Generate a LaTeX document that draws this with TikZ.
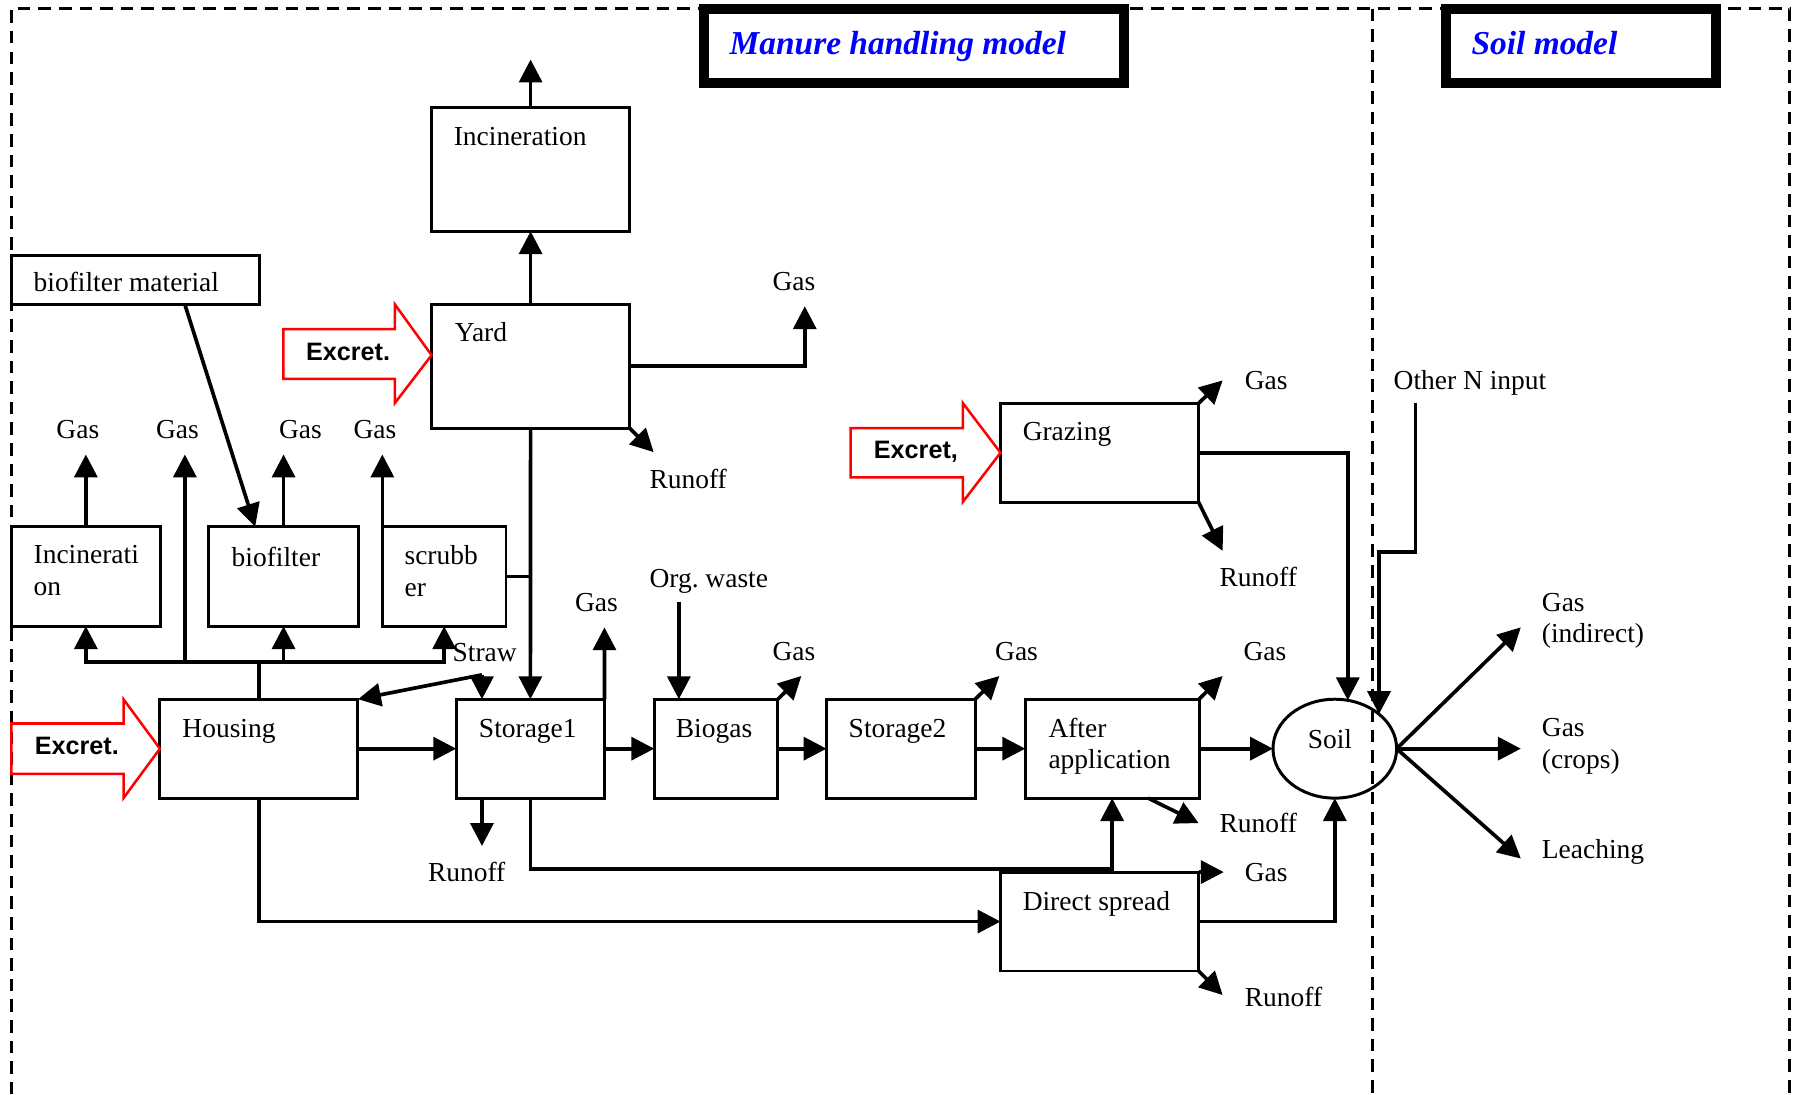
\documentclass[tikz,border=0pt]{standalone}
\usepackage{fontspec}
\setmainfont{Liberation Serif}
\newfontfamily\arialfont{Liberation Sans}
\usetikzlibrary{arrows.meta,shapes.geometric,calc}
\frenchspacing
\begin{document}
\begin{tikzpicture}[x=0.5pt,y=-0.5pt,
  bx/.style 2 args={draw,line width=1.3pt,minimum width=#1,minimum height=#2,inner sep=0pt,outer sep=0pt},
  conn/.style={line width=1.6pt},
  arr/.style={line width=1.6pt,-{Triangle[length=10pt,width=10pt]}},
  lbl/.style={inner sep=0pt,font=\fontsize{12}{14}\selectfont},
  excret/.style={draw=red,line width=1.1pt,line join=miter},
  extxt/.style={inner sep=0pt,font=\arialfont\bfseries\fontsize{11}{13}\selectfont},
  title/.style={draw,line width=4.4pt,inner sep=0pt,outer sep=0pt},
  ttxt/.style={inner sep=0pt,text=blue,font=\bfseries\itshape\fontsize{14.6}{17}\selectfont},
  border/.style={line width=1.4pt,dash pattern=on 5.5pt off 3.5pt}]
\useasboundingbox (0,0) rectangle (1568,956);

% dashed frame and divider
\draw[border] (10,956) -- (10,7.5) -- (1563.5,7.5) -- (1563.5,956);
\draw[border] (1199,7.5) -- (1199,956);

% titles
\node[title,fill=white,minimum width=183.3pt,minimum height=32.3pt] (title1) at (798.3,40) {};
\node[ttxt,anchor=base west] (title1t) at (637,48) {Manure handling model};
\node[title,fill=white,minimum width=118pt,minimum height=32.3pt] (title2) at (1381,40) {};
\node[ttxt,anchor=base west] (title2t) at (1285,48) {Soil model};

% boxes
\node[bx={86.5pt}{54pt}] (incA) at (463.5,148) {};
\node[bx={86.5pt}{54pt}] (yard) at (463.5,320) {};
\node[bx={108.3pt}{21.4pt}] (bfmat) at (118.3,245) {};
\node[bx={65pt}{43.5pt}] (incB) at (75,503.5) {};
\node[bx={65.2pt}{43.5pt}] (biof) at (247.7,503.5) {};
\node[bx={54pt}{43.5pt}] (scrub) at (388,503.5) {};
\node[bx={86.5pt}{43.2pt}] (hous) at (226.2,654) {};
\node[bx={64.8pt}{43.2pt}] (st1) at (463.3,654) {};
\node[bx={54pt}{43.2pt}] (biog) at (625.5,654) {};
\node[bx={64.9pt}{43.2pt}] (st2) at (786.9,654) {};
\node[bx={75.9pt}{43.2pt}] (aft) at (971.5,654) {};
\node[bx={86.5pt}{43.2pt}] (graz) at (960.5,395.5) {};
\node[bx={86.5pt}{43.2pt}] (dir) at (960.5,805) {};
\node[draw,ellipse,line width=1.3pt,minimum width=54pt,minimum height=43.2pt,inner sep=0pt,outer sep=0pt] (soil) at (1166,654) {};

% box texts
\node[lbl,anchor=base west] (tincA) at (396,127) {Incineration};
\node[lbl,anchor=base west] (tyard) at (397,298) {Yard};
\node[lbl,anchor=base west] (tbfmat) at (29,255) {biofilter material};
\node[lbl,anchor=base west] (tincB1) at (29,492) {Incinerati};
\node[lbl,anchor=base west] (tincB2) at (29,520) {on};
\node[lbl,anchor=base west] (tbiof) at (202,495) {biofilter};
\node[lbl,anchor=base west] (tscrub1) at (353,493.5) {scrubb};
\node[lbl,anchor=base west] (tscrub2) at (353,521.5) {er};
\node[lbl,anchor=base west] (thous) at (159,644) {Housing};
\node[lbl,anchor=base west] (tst1) at (418,644) {Storage1};
\node[lbl,anchor=base west] (tbiog) at (590,644) {Biogas};
\node[lbl,anchor=base west] (tst2) at (741,644) {Storage2};
\node[lbl,anchor=base west] (taft1) at (915.5,644) {After};
\node[lbl,anchor=base west] (taft2) at (915.5,671.5) {application};
\node[lbl,anchor=base west] (tgraz) at (893,385) {Grazing};
\node[lbl,anchor=base west] (tdir) at (893,795) {Direct spread};
\node[lbl,anchor=base west] (tsoil) at (1142,654) {Soil};

% outside labels
\node[lbl,anchor=base] (g1) at (68,383) {Gas};
\node[lbl,anchor=base] (g2) at (155,383) {Gas};
\node[lbl,anchor=base] (g3) at (262.5,383) {Gas};
\node[lbl,anchor=base] (g4) at (327.5,383) {Gas};
\node[lbl,anchor=base] (gyard) at (693.5,254) {Gas};
\node[lbl,anchor=base west] (ryard) at (567,427) {Runoff};
\node[lbl,anchor=base west] (straw) at (395,578) {Straw};
\node[lbl,anchor=base] (gst1) at (521,534) {Gas};
\node[lbl,anchor=base west] (orgw) at (567,513) {Org. waste};
\node[lbl,anchor=base] (gbiog) at (693.5,577) {Gas};
\node[lbl,anchor=base] (gst2) at (888,577) {Gas};
\node[lbl,anchor=base] (gaft) at (1105,577) {Gas};
\node[lbl,anchor=base west] (raft) at (1065,727.5) {Runoff};
\node[lbl,anchor=base west] (rst1) at (373.5,770) {Runoff};
\node[lbl,anchor=base west] (gdir) at (1087,770) {Gas};
\node[lbl,anchor=base west] (rdir) at (1087,879.5) {Runoff};
\node[lbl,anchor=base west] (ggraz) at (1087,340) {Gas};
\node[lbl,anchor=base west] (rgraz) at (1065,512) {Runoff};
\node[lbl,anchor=base west] (othN) at (1217,340) {Other N input};
\node[lbl,anchor=base west] (gind1) at (1346.5,534) {Gas};
\node[lbl,anchor=base west] (gind2) at (1346.5,561.5) {(indirect)};
\node[lbl,anchor=base west] (gcr1) at (1346.5,643) {Gas};
\node[lbl,anchor=base west] (gcr2) at (1346.5,671) {(crops)};
\node[lbl,anchor=base west] (leach) at (1346.5,749.5) {Leaching};

% Excret block arrows
\draw[excret] (10,632) -- (108,632) -- (108,611) -- (hous.west) -- (108,697) -- (108,676) -- (10,676) -- cycle;
\node[extxt,anchor=base west] (ex1) at (30,659) {Excret.};
\draw[excret] (247.5,287.5) -- (345,287.5) -- (345,266) -- ($(yard.north west)!0.41!(yard.south west)$) -- (345,352) -- (345,331) -- (247.5,331) -- cycle;
\node[extxt,anchor=base west] (ex2) at (267,314.5) {Excret.};
\draw[excret] (743,374) -- (841,374) -- (841,352) -- (graz.west) -- (841,438.5) -- (841,417) -- (743,417) -- cycle;
\node[extxt,anchor=base west] (ex3) at (763,400.5) {Excret,};

% free ends
\coordinate (incAout) at (463.5,52);
\coordinate (yardgas) at (703,267.5);
\coordinate (yardrun) at (571,395);
\coordinate (up1) at (75,397);
\coordinate (up2) at (161.5,397);
\coordinate (up3) at (247.7,397);
\coordinate (up4) at (334,397);
\coordinate (bus) at (0,578);
\coordinate (strawj) at (421,589.5);
\coordinate (st1gas) at (528,548);
\coordinate (orgin) at (593,525.5);
\coordinate (st1run) at (421,739);
\coordinate (biogout) at (700,590.5);
\coordinate (st2out) at (873,590.5);
\coordinate (aftout) at (1068,590.5);
\coordinate (aftrun) at (1047,719);
\coordinate (othin) at (1236.5,352);
\coordinate (sgi) at (1328.5,548);
\coordinate (sgc) at (1328.5,654);
\coordinate (sle) at (1328.5,750);

% connectors
\draw[arr] (yard.north) -- (incA.south);
\draw[arr] (incA.north) -- (incAout);
\draw[arr] (yard.east) -| (yardgas);
\draw[arr] (yard.south east) -- (yardrun);
\draw[arr] (yard.south) -- (st1.north);
\draw[conn] (scrub.east) -- (scrub.east -| yard.south);
\draw[arr] ($(bfmat.south west)!0.70!(bfmat.south east)$) -- ($(biof.north west)!0.31!(biof.north east)$);
\draw[arr] (incB.north) -- (up1);
\draw[arr] (up2 |- bus) -- (up2);
\draw[arr] (biof.north) -- (up3);
\draw[arr] (scrub.north west) -- (up4);
\draw[conn] (hous.north) -- (hous.north |- bus);
\draw[arr] (hous.north |- bus) -| (incB.south);
\draw[arr] (hous.north |- bus) -| (biof.south);
\draw[arr] (hous.north |- bus) -| (scrub.south);
\draw[arr] (strawj) -- (hous.north east);
\draw[arr] (strawj) -- (strawj |- st1.north);
\draw[arr] (hous.east) -- (st1.west);
\draw[arr] (st1.north east) -- (st1gas);
\draw[arr] (orgin) -- (orgin |- biog.north);
\draw[arr] (st1run |- st1.south) -- (st1run);
\draw[arr] (st1.east) -- (biog.west);
\draw[arr] (biog.north east) -- (biogout);
\draw[arr] (biog.east) -- (st2.west);
\draw[arr] (st2.north east) -- (st2out);
\draw[arr] (st2.east) -- (aft.west);
\draw[arr] (aft.north east) -- (aftout);
\draw[arr] ($(aft.south)+(31.5,0)$) -- (aftrun);
\draw[arr] (aft.east) -- (soil.west);
\draw[arr] (st1.south) -- ++(0,62) -| (aft.south);
\draw[arr] (hous.south) |- (dir.west);
\draw[arr] (dir.north east) -- ++(22,0);
\draw[arr] (dir.east) -| (soil.south);
\draw[arr] (dir.south east) -- ++(21,21);
\draw[arr] (graz.north east) -- ++(21,-20);
\draw[arr] (graz.south east) -- ++(21,42.5);
\draw[arr] (graz.east) -| (soil.75);
\draw[arr] (othin) -- ++(0,130) -| (soil.38);
\draw[arr] (soil.east) -- (sgi);
\draw[arr] (soil.east) -- (sgc);
\draw[arr] (soil.east) -- (sle);
\end{tikzpicture}
\end{document}
